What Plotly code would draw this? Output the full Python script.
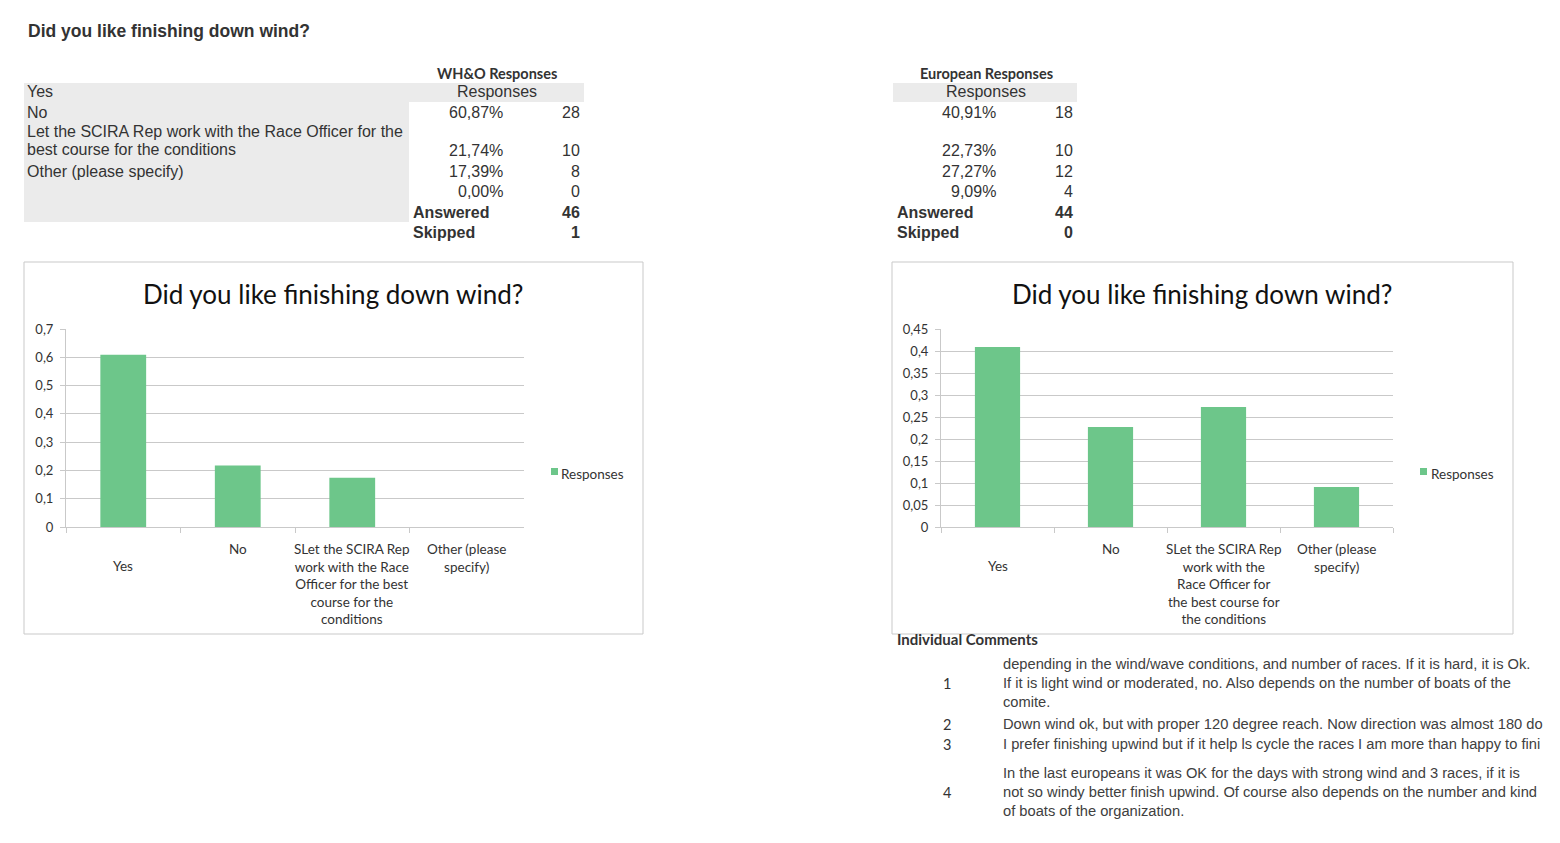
import plotly.graph_objects as go

# ---------------- data ----------------
categories = ["Yes", "No",
              "Let the SCIRA Rep work with the Race Officer for the best course for the conditions",
              "Other (please specify)"]
table_labels = ["Yes", "No",
                "Let the SCIRA Rep work with the Race Officer for the",
                "best course for the conditions",
                "Other (please specify)"]
who_pct = [0.6087, 0.2174, 0.1739, 0.0]
who_counts = [28, 10, 8, 0]
who_answered = 46
who_skipped = 1
eu_pct = [0.4091, 0.2273, 0.2727, 0.0909]
eu_counts = [18, 10, 12, 4]
eu_answered = 44
eu_skipped = 0
left_axis_labels = ["Yes", "No",
                    "SLet the SCIRA Rep<br>work with the Race<br>Officer for the best<br>course for the<br>conditions",
                    "Other (please<br>specify)"]
right_axis_labels = ["Yes", "No",
                     "SLet the SCIRA Rep<br>work with the<br>Race Officer for<br>the best course for<br>the conditions",
                     "Other (please<br>specify)"]
comment_numbers = ["1", "2", "3", "4"]
comments = [
    ["depending in the wind/wave conditions, and number of races. If it is hard, it is Ok.",
     "If it is light wind or moderated, no. Also depends on the number of boats of the",
     "comite."],
    ["Down wind ok, but with proper 120 degree reach. Now direction was almost 180 do"],
    ["I prefer finishing upwind but if it help ls cycle the races I am more than happy to fini"],
    ["In the last europeans it was OK for the days with strong wind and 3 races, if it is",
     "not so windy better finish upwind. Of course also depends on the number and kind",
     "of boats of the organization."],
]
chart_title = "Did you like finishing down wind?"
series_name = "Responses"

# ---------------- layout helpers ----------------
W, H = 1560, 843
def px(x):
    return x / W
def py(y):
    return 1 - y / H

BAR = "#6dc68a"
GRID = "#c9c9c9"
TXT = "#333333"
GRAYBG = "#ebebeb"
CAL = "Lato, Carlito, Calibri, sans-serif"
ARI = "Liberation Sans, Arial, sans-serif"

def fmt_pct(v):
    return f"{v*100:.2f}%".replace(".", ",")

fig = go.Figure()
fig.add_trace(go.Bar(x=categories, y=who_pct, name=series_name, marker_color=BAR,
                     marker_line_width=0, width=0.4, xaxis="x", yaxis="y", showlegend=False))
fig.add_trace(go.Bar(x=categories, y=eu_pct, name=series_name, marker_color=BAR,
                     marker_line_width=0, width=0.4, xaxis="x2", yaxis="y2", showlegend=False))

def xax(dom):
    return dict(domain=[px(dom[0]), px(dom[1])], type="category", showticklabels=False,
                ticks="outside", tickson="boundaries", ticklen=5, tickcolor=GRID,
                showline=True, linecolor=GRID, linewidth=1, showgrid=False,
                automargin=False, fixedrange=True)

def yax(rng, dt, anchor):
    return dict(domain=[py(527), py(329)], range=rng, dtick=dt, tick0=0, anchor=anchor,
                showline=True, linecolor=GRID, linewidth=1, showgrid=True,
                gridcolor=GRID, gridwidth=1,
                ticks="outside", ticklen=5, tickcolor=GRID, zeroline=False,
                ticklabelstandoff=4, automargin=False,
                tickfont=dict(family=CAL, size=13, color=TXT), fixedrange=True)

fig.update_layout(
    template="none",
    width=W, height=H, margin=dict(l=0, r=0, t=0, b=0, pad=0, autoexpand=False),
    paper_bgcolor="white", plot_bgcolor="white", separators=",.",
    showlegend=False,
    xaxis=dict(xax((66, 524)), anchor="y"),
    yaxis=yax([0, 0.7], 0.1, "x"),
    xaxis2=dict(xax((941, 1393)), anchor="y2"),
    yaxis2=yax([0, 0.45], 0.05, "x2"),
    bargap=0.6,
)

ann = []
shapes = []

def text(x, y, s, size=16, family=ARI, color=TXT, xanchor="left", bold=False, **kw):
    if bold:
        s = f"<b>{s}</b>"
    ann.append(dict(x=px(x), y=py(y), xref="paper", yref="paper", text=s, showarrow=False,
                    xanchor=xanchor, yanchor="middle", borderpad=0,
                    font=dict(family=family, size=size, color=color),
                    align=kw.pop("align", "left"), **kw))

# page title
text(27, 31, chart_title, size=17.5, bold=True)

# ---------- left table ----------
shapes.append(dict(type="rect", xref="paper", yref="paper", x0=px(24), x1=px(584), y0=py(83), y1=py(102),
                   fillcolor=GRAYBG, line_width=0, layer="below"))
shapes.append(dict(type="rect", xref="paper", yref="paper", x0=px(24), x1=px(409), y0=py(102), y1=py(222),
                   fillcolor=GRAYBG, line_width=0, layer="below"))
label_y = [92, 112, 131, 150, 171]
for lab, yy in zip(table_labels, label_y):
    text(26, yy, lab)
value_y = [112, 151, 171, 192]

def table(x_hdr, hdr, x_pct, x_cnt, x_ans, pcts, cnts, answered, skipped):
    text(x_hdr, 73, hdr, size=14.5, family=CAL, bold=True, xanchor="center")
    text(x_hdr, 92, series_name, xanchor="center")
    for p, c, yy in zip(pcts, cnts, value_y):
        text(x_pct, yy, fmt_pct(p), xanchor="right")
        text(x_cnt, yy, str(c), xanchor="right")
    text(x_ans, 212, "Answered", bold=True)
    text(x_cnt, 212, str(answered), bold=True, xanchor="right")
    text(x_ans, 232, "Skipped", bold=True)
    text(x_cnt, 232, str(skipped), bold=True, xanchor="right")

table(497, "WH&amp;O Responses", 504, 581, 412, who_pct, who_counts, who_answered, who_skipped)

# ---------- right table ----------
shapes.append(dict(type="rect", xref="paper", yref="paper", x0=px(893), x1=px(1077), y0=py(83), y1=py(102),
                   fillcolor=GRAYBG, line_width=0, layer="below"))
table(986, "European Responses", 997, 1074, 896, eu_pct, eu_counts, eu_answered, eu_skipped)

# ---------- chart boxes ----------
for x0, x1 in [(24, 643), (892, 1513)]:
    shapes.append(dict(type="rect", xref="paper", yref="paper", x0=px(x0), x1=px(x1), y0=py(262), y1=py(634),
                       line=dict(color=GRID, width=1), fillcolor="rgba(0,0,0,0)", layer="below"))

# chart titles
text(333, 294, chart_title, size=26, family=CAL, color="#111111", xanchor="center")
text(1202, 294, chart_title, size=26, family=CAL, color="#111111", xanchor="center")

# category labels (placed on the category axes)
for xr, labels in [("x", left_axis_labels), ("x2", right_axis_labels)]:
    for i, (cat, lab) in enumerate(zip(categories, labels)):
        top = 556 if i == 0 else 538.5
        ann.append(dict(x=cat, xref=xr, y=py(top), yref="paper", text=lab, showarrow=False,
                        xanchor="center", yanchor="top", align="center",
                        font=dict(family=CAL, size=13.5, color=TXT)))

# legends
for sx, tx in [(551, 560), (1420, 1430)]:
    shapes.append(dict(type="rect", xref="paper", yref="paper", x0=px(sx), x1=px(sx + 7),
                       y0=py(475), y1=py(468), fillcolor=BAR, line_width=0))
    text(tx, 474, series_name, size=13.5, family=CAL)

# ---------- individual comments ----------
text(896, 639, "Individual Comments", size=15, family=CAL, bold=True)
block_start = [664, 724, 744, 773]
line_gap = 19
for num, lines, y0 in zip(comment_numbers, comments, block_start):
    for k, ln in enumerate(lines):
        text(1002, y0 + k * line_gap, ln, size=14.7, color="#404040")
    mid = y0 + (len(lines) - 1) * line_gap / 2
    text(947, mid, num, size=14.5, family=CAL, color=TXT, xanchor="center")

fig.update_layout(annotations=ann, shapes=shapes)

fig.write_html("out.html", config={"displayModeBar": False},
               post_script="document.body.style.margin='0';")
